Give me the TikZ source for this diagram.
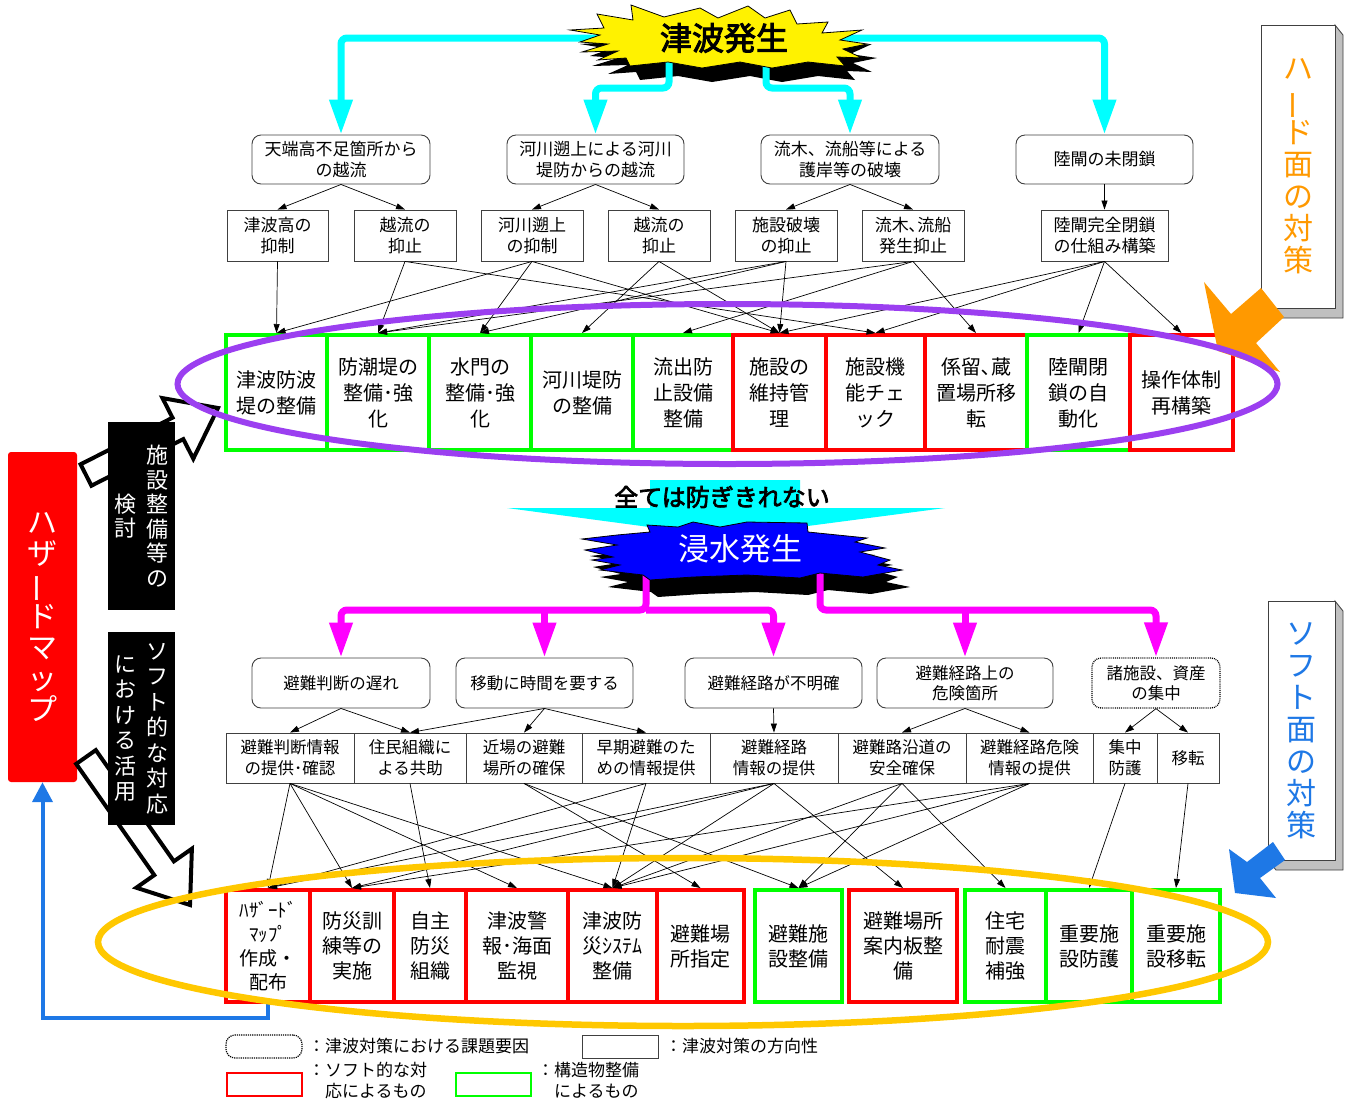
\documentclass[tikz,border=0pt]{standalone}
\usepackage{fontspec}
\usepackage{graphicx}
\setmainfont{Noto Sans CJK JP}
\newfontfamily\jpbold[FakeBold=3]{Noto Sans CJK JP}
\usetikzlibrary{arrows.meta}
\definecolor{cy}{HTML}{00FFFF}
\definecolor{mg}{HTML}{FF00FF}
\definecolor{gr}{HTML}{00FF00}
\definecolor{rd}{HTML}{FF0000}
\definecolor{pu}{HTML}{9B3FF0}
\definecolor{go}{HTML}{FFC800}
\definecolor{orng}{HTML}{FF9900}
\definecolor{bl}{HTML}{1E78E6}
\definecolor{bx}{HTML}{404040}
\definecolor{sidegray}{HTML}{C0C0C0}
\newcommand\fsz[2]{\fontsize{#1}{#2}\selectfont}
\newcommand\vbar{\rotatebox[origin=c]{90}{ー}}
\newcommand\ystar{(570,30) -- (604,28) -- (597,14) -- (633,20) -- (631,5) -- (664,17) -- (700,8) -- (718,18) -- (748,6) -- (765,18) -- (790,10) -- (797,24) -- (828,22) -- (822,33) -- (862,30) -- (840,40) -- (867,44) -- (843,49) -- (862,58) -- (837,57) -- (845,66) -- (808,62) -- (772,68) -- (740,62) -- (702,68) -- (668,62) -- (630,66) -- (626,58) -- (598,60) -- (618,51) -- (582,52) -- (608,44) -- (580,42) -- (600,35) -- cycle}
\newcommand\bstar{(582,539) -- (617,545) -- (585,550) -- (613,557) -- (592,560) -- (620,565) -- (600,570) -- (643,575) -- (650,580) -- (693,577) -- (747,575) -- (800,578) -- (820,573) -- (863,577) -- (902,570) -- (878,565) -- (890,560) -- (860,552) -- (885,548) -- (855,542) -- (867,538) -- (808,532) -- (807,523) -- (747,522) -- (720,527) -- (693,522) -- (678,527) -- (647,525) -- (650,532) -- (617,535) -- cycle}
\begin{document}
\begin{tikzpicture}[x=1pt,y=-1pt,
  issue/.style={draw=bx, line width=0.9pt, rounded corners=9pt, fill=white, align=center, inner sep=0pt, font=\fsz{17}{21}},
  dirbox/.style={draw=bx, line width=0.9pt, fill=white, align=center, inner sep=0pt, font=\fsz{17}{21}},
  hard/.style={line width=4pt, fill=white, align=center, inner sep=0pt, font=\fsz{20}{26}, minimum height=115pt},
  softm/.style={line width=4pt, fill=white, align=center, inner sep=0pt, font=\fsz{20}{25}, minimum height=112pt},
  conn/.style={-{Triangle[length=9pt,width=6pt]}, line width=0.7pt},
  bigc/.style={line width=7pt, draw=cy, rounded corners=6pt, -{Triangle[length=35pt,width=22pt]}},
  bigm/.style={line width=7pt, draw=mg, rounded corners=6pt, -{Triangle[length=35pt,width=22pt]}},
  vtext/.style={align=center, inner sep=0pt},
  hollow/.style={draw=black, line width=4pt, fill=white, line join=miter},
]
\useasboundingbox (0,0) rectangle (1345,1104);

% ================= top issue boxes =================
\node[issue, minimum width=178pt, minimum height=49pt] (t1) at (341,159.5) {天端高不足箇所から\\の越流};
\node[issue, minimum width=177pt, minimum height=49pt] (t2) at (595.5,159.5) {河川遡上による河川\\堤防からの越流};
\node[issue, minimum width=178pt, minimum height=49pt] (t3) at (850,159.5) {流木、流船等による\\護岸等の破壊};
\node[issue, minimum width=177pt, minimum height=49pt] (t4) at (1104.5,159.5) {陸閘の未閉鎖};

% ================= top starburst =================
\fill[black, shift={(10,14)}] \ystar;
\coordinate (yl) at (620,38);
\coordinate (yr) at (830,38);
\coordinate (ym1) at (669,60);
\coordinate (ym2) at (766,60);
\draw[bigc] (yl) -| (t1.north);
\draw[bigc] (yr) -| (t4.north);
\draw[bigc] (ym1) -- (669,88) -| (t2.north);
\draw[bigc] (ym2) -- (766,88) -| (t3.north);
\filldraw[fill=yellow, draw=black, line width=0.8pt] \ystar;
\node[font=\jpbold\fsz{32}{36}, inner sep=0pt] (tsunami) at (724,38) {津波発生};

% ================= second row (directions) =================
\node[dirbox, minimum width=101pt, minimum height=51pt] (a) at (277.5,235.5) {津波高の\\抑制};
\node[dirbox, minimum width=102pt, minimum height=51pt] (b) at (405,235.5) {越流の\\抑止};
\node[dirbox, minimum width=102pt, minimum height=51pt] (c) at (532,235.5) {河川遡上\\の抑制};
\node[dirbox, minimum width=102pt, minimum height=51pt] (d) at (659,235.5) {越流の\\抑止};
\node[dirbox, minimum width=102pt, minimum height=51pt] (e) at (786,235.5) {施設破壊\\の抑止};
\node[dirbox, minimum width=102pt, minimum height=51pt] (f) at (913,235.5) {流木､流船\\発生抑止};
\node[dirbox, minimum width=127pt, minimum height=51pt] (g) at (1104.5,235.5) {陸閘完全閉鎖\\の仕組み構築};

\draw[conn] (t1.south) -- (a.north);
\draw[conn] (t1.south) -- (b.north);
\draw[conn] (t2.south) -- (c.north);
\draw[conn] (t2.south) -- (d.north);
\draw[conn] (t3.south) -- (e.north);
\draw[conn] (t3.south) -- (f.north);
\draw[conn] (t4.south) -- (g.north);

% ================= hard measures row =================
\node[hard, draw=gr, minimum width=101pt] (h1) at (276.5,392.5) {津波防波\\堤の整備};
\node[hard, draw=gr, minimum width=102pt] (h2) at (378,392.5) {防潮堤の\\整備･強\\化};
\node[hard, draw=gr, minimum width=102pt] (h3) at (480,392.5) {水門の\\整備･強\\化};
\node[hard, draw=gr, minimum width=102pt] (h4) at (582,392.5) {河川堤防\\の整備};
\node[hard, draw=gr, minimum width=100pt] (h5) at (683,392.5) {流出防\\止設備\\整備};
\node[hard, draw=rd, minimum width=93pt] (h6) at (779.5,392.5) {施設の\\維持管\\理};
\node[hard, draw=rd, minimum width=99pt] (h7) at (875.5,392.5) {施設機\\能チェ\\ック};
\node[hard, draw=rd, minimum width=102pt] (h8) at (976,392.5) {係留､蔵\\置場所移\\転};
\node[hard, draw=gr, minimum width=103pt] (h9) at (1078.5,392.5) {陸閘閉\\鎖の自\\動化};
\node[hard, draw=rd, minimum width=103pt] (h10) at (1181.5,392.5) {操作体制\\再構築};

\foreach \s/\t in {a/h1, b/h2, b/h7, c/h1, c/h3, c/h6, d/h4, d/h6, e/h2, e/h3, e/h6, f/h2, f/h5, f/h8, g/h6, g/h7, g/h9, g/h10}
  \draw[conn] (\s.south) -- (\t.north);

% ================= left side =================
\node[fill=rd, rounded corners=3pt, minimum width=69pt, minimum height=330pt, inner sep=0pt] (hz) at (42.5,617) {};
\node[vtext, text=white, font=\fsz{30}{31}] at (42.5,617) {ハ\\ザ\\\vbar\\ド\\マ\\ッ\\プ};
\draw[hollow] (80.6,464.3) -- (172.5,417.7) -- (162.5,398.1) -- (218,408) -- (193.3,458.7) -- (183.3,439.1) -- (91.4,485.7) -- cycle;
\draw[hollow] (95.8,750.1) -- (173.9,861.3) -- (191.9,848.7) -- (190,905) -- (136.3,887.7) -- (154.3,875.1) -- (76.2,763.9) -- cycle;
\node[fill=black, minimum width=67pt, minimum height=188pt, inner sep=0pt] (k1) at (141.5,516) {};
\node[vtext, text=white, font=\fsz{22}{24.5}] at (157,516) {施\\設\\整\\備\\等\\の};
\node[vtext, text=white, font=\fsz{22}{24.5}] at (125,516) {検\\討};
\node[fill=black, minimum width=67pt, minimum height=193pt, inner sep=0pt] (k2) at (141.5,728.5) {};
\node[vtext, text=white, font=\fsz{22}{25.5}] at (157,728.5) {ソ\\フ\\ト\\的\\な\\対\\応};
\node[vtext, text=white, font=\fsz{22}{25.5}] at (125,728.5) {に\\お\\け\\る\\活\\用};

% ================= right side 3D boxes =================
\filldraw[fill=sidegray, draw=bx, line width=0.8pt] (1335,25) -- (1343,35) -- (1343,318) -- (1269,318) -- (1261,308) -- (1335,308) -- cycle;
\node[draw=bx, fill=white, line width=0.8pt, minimum width=74pt, minimum height=283pt, inner sep=0pt] (hardbox) at (1298,166.5) {};
\node[vtext, text=orng, font=\fsz{30}{32}] at (1298,166.5) {ハ\\\vbar\\ド\\面\\の\\対\\策};
\filldraw[fill=orng, draw=none] (1261,288) -- (1231,314) -- (1204,282) -- (1218,351) -- (1280,372) -- (1256,343) -- (1284,317) -- cycle;

\filldraw[fill=sidegray, draw=bx, line width=0.8pt] (1335,601) -- (1343,611) -- (1343,870) -- (1276,870) -- (1268,860) -- (1335,860) -- cycle;
\node[draw=bx, fill=white, line width=0.8pt, minimum width=67pt, minimum height=259pt, inner sep=0pt] (softbox) at (1301.5,730.5) {};
\node[vtext, text=bl, font=\fsz{30}{32}] at (1301.5,730.5) {ソ\\フ\\ト\\面\\の\\対\\策};
\filldraw[fill=bl, draw=none] (1273,842) -- (1247,862) -- (1229,849) -- (1235,893) -- (1276,898) -- (1260,878) -- (1285,860) -- cycle;

% ================= lower issue boxes =================
\node[issue, font=\fsz{16.5}{20}, minimum width=178pt, minimum height=50pt] (l1) at (341,683) {避難判断の遅れ};
\node[issue, font=\fsz{16.5}{20}, minimum width=177pt, minimum height=50pt] (l2) at (544.5,683) {移動に時間を要する};
\node[issue, font=\fsz{16.5}{20}, minimum width=177pt, minimum height=50pt] (l3) at (773.5,683) {避難経路が不明確};
\node[issue, font=\fsz{16.5}{20}, minimum width=176pt, minimum height=50pt] (l4) at (965,683) {避難経路上の\\危険箇所};
\node[issue, font=\fsz{16.5}{20}, minimum width=128pt, minimum height=50pt, densely dotted, line width=1.3pt, draw=black] (l5) at (1156,683) {諸施設、資産\\の集中};

% ================= middle: cannot prevent all =================
\fill[cy] (650,480) -- (800,480) -- (800,508) -- (945,508) -- (724,537) -- (507,508) -- (650,508) -- cycle;
\node[font=\jpbold\fsz{24}{28}, inner sep=0pt] (notall) at (722,497) {全ては防ぎきれない};
\fill[black, shift={(8,17)}] \bstar;
\coordinate (mh) at (646,610);
\coordinate (mh2) at (820,610);
\draw[bigm] (646,572) -- (mh) -| (l1.north);
\draw[bigm] (mh) -| (l3.north);
\draw[bigm] (l2.north |- mh) -- (l2.north);
\draw[bigm] (820,572) -- (mh2) -| (l5.north);
\draw[bigm] (l4.north |- mh2) -- (l4.north);
\filldraw[fill=blue, draw=black, line width=0.8pt] \bstar;
\node[text=white, font=\fsz{31}{34}, inner sep=0pt] (flood) at (740,549) {浸水発生};

% lower directions
\node[dirbox, font=\fsz{16.5}{21}, minimum width=128pt, minimum height=50pt] (A) at (290,758) {避難判断情報\\の提供･確認};
\node[dirbox, font=\fsz{16.5}{21}, minimum width=112pt, minimum height=50pt] (B) at (410,758) {住民組織に\\よる共助};
\node[dirbox, font=\fsz{16.5}{21}, minimum width=116pt, minimum height=50pt] (C) at (524,758) {近場の避難\\場所の確保};
\node[dirbox, font=\fsz{16.5}{21}, minimum width=128pt, minimum height=50pt] (D) at (646,758) {早期避難のた\\めの情報提供};
\node[dirbox, font=\fsz{16.5}{21}, minimum width=128pt, minimum height=50pt] (E) at (774,758) {避難経路\\情報の提供};
\node[dirbox, font=\fsz{16.5}{21}, minimum width=128pt, minimum height=50pt] (F) at (902,758) {避難路沿道の\\安全確保};
\node[dirbox, font=\fsz{16.5}{21}, minimum width=127pt, minimum height=50pt] (G) at (1029.5,758) {避難経路危険\\情報の提供};
\node[dirbox, font=\fsz{16.5}{21}, minimum width=64pt, minimum height=50pt] (H) at (1125,758) {集中\\防護};
\node[dirbox, font=\fsz{16.5}{21}, minimum width=62pt, minimum height=50pt] (I) at (1188,758) {移転};

\foreach \s/\t in {l1/A, l1/B, l2/B, l2/C, l2/D, l3/E, l4/F, l4/G, l5/H, l5/I}
  \draw[conn] (\s.south) -- (\t.north);

% ================= bottom measures =================
\node[softm, draw=rd, minimum width=84pt, font=\fsz{19}{24}] (b1) at (268,946) {ﾊｻﾞｰﾄﾞ\\ﾏｯﾌﾟ\\作成・\\配布};
\node[softm, draw=rd, minimum width=84pt] (b2) at (352,946) {防災訓\\練等の\\実施};
\node[softm, draw=rd, minimum width=72pt] (b3) at (430,946) {自主\\防災\\組織};
\node[softm, draw=rd, minimum width=102pt] (b4) at (517,946) {津波警\\報･海面\\監視};
\node[softm, draw=rd, minimum width=89pt] (b5) at (612.5,946) {津波防\\災ｼｽﾃﾑ\\整備};
\node[softm, draw=rd, minimum width=87pt] (b6) at (700.5,946) {避難場\\所指定};
\node[softm, draw=gr, minimum width=87pt] (b7) at (798.5,946) {避難施\\設整備};
\node[softm, draw=rd, minimum width=108pt] (b8) at (903,946) {避難場所\\案内板整\\備};
\node[softm, draw=gr, minimum width=81pt] (b9) at (1005.5,946) {住宅\\耐震\\補強};
\node[softm, draw=gr, minimum width=86pt] (b10) at (1089,946) {重要施\\設防護};
\node[softm, draw=gr, minimum width=88pt] (b11) at (1176,946) {重要施\\設移転};

\foreach \s/\t in {A/b1, A/b2, A/b4, A/b5, B/b3, C/b6, C/b7, D/b1, D/b5, E/b1, E/b2, E/b5, E/b8, F/b5, F/b7, F/b9, G/b2, G/b5, G/b7, H/b10, I/b11}
  \draw[conn] (\s.south) -- (\t.north);

% blue feedback arrow
\coordinate (bc) at (42.5,1018);
\draw[bl, line width=4pt, -{Triangle[length=20pt,width=20pt]}] (b1.south) |- (bc) -- (hz.south);

% ================= legend =================
\node[draw=black, densely dotted, line width=1.2pt, rounded corners=9pt, minimum width=76pt, minimum height=23pt, inner sep=0pt] (lg1) at (264,1046.5) {};
\node[anchor=west, font=\fsz{17}{21}, inner sep=0pt] (lg1t) at (308,1046.5) {：津波対策における課題要因};
\node[draw=bx, line width=0.9pt, minimum width=76pt, minimum height=23pt, inner sep=0pt] (lg2) at (620,1046.5) {};
\node[anchor=west, font=\fsz{17}{21}, inner sep=0pt] (lg2t) at (665,1046.5) {：津波対策の方向性};
\node[draw=rd, line width=2pt, minimum width=75pt, minimum height=23pt, inner sep=0pt] (lg3) at (264.5,1084.5) {};
\node[anchor=north west, align=left, font=\fsz{17}{21}, inner sep=0pt] (lg3t) at (308,1062) {：ソフト的な対\\\hspace*{1em}応によるもの};
\node[draw=gr, line width=2pt, minimum width=75pt, minimum height=23pt, inner sep=0pt] (lg4) at (493.5,1084.5) {};
\node[anchor=north west, align=left, font=\fsz{17}{21}, inner sep=0pt] (lg4t) at (537,1062) {：構造物整備\\\hspace*{1em}によるもの};

% ================= ellipses =================
\draw[pu, line width=6pt] (727.5,384) ellipse [x radius=550, y radius=80];
\draw[go, line width=6.5pt] (683,942) ellipse [x radius=585, y radius=84];
\end{tikzpicture}
\end{document}
